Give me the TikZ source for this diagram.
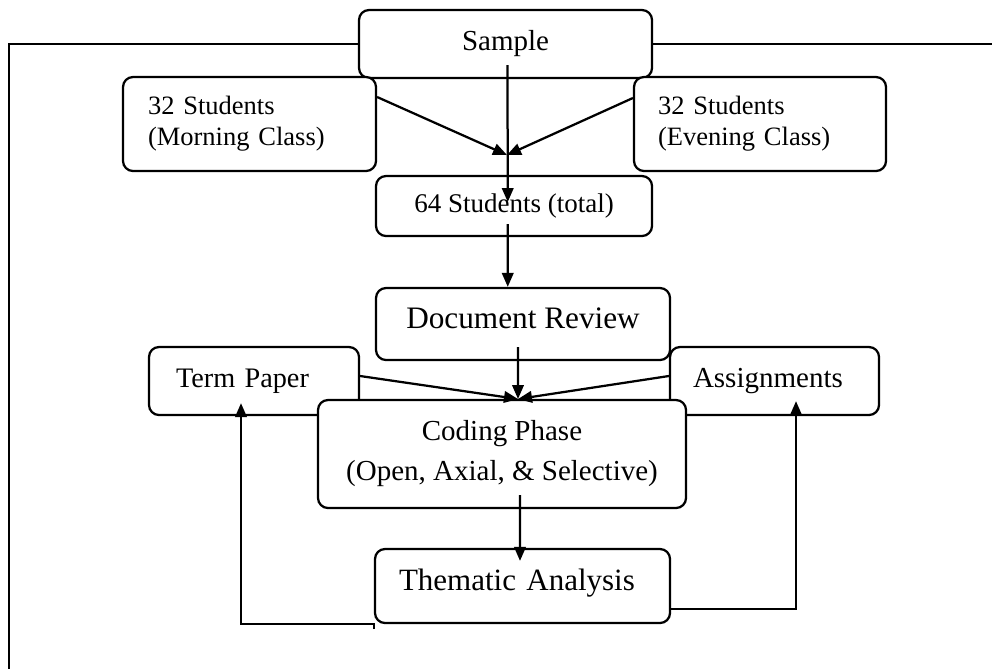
\documentclass[tikz,border=0pt]{standalone}
\usepackage{fontspec}
\setmainfont{Liberation Serif}
\usetikzlibrary{arrows.meta}
\begin{document}
\begin{tikzpicture}[>={Triangle[length=5.6pt,width=4.6pt]},x=0.4pt,y=-0.4pt,line width=0.9pt,
	box/.style={draw,fill=white,rounded corners=4pt,inner sep=0pt,align=center,font=\fontsize{11.6}{14}\selectfont},
	lbox/.style={box,align=left}]
			\useasboundingbox (0,0) rectangle (992,669);
			\node[box,minimum width=117.2pt,minimum height=27.2pt] (sample) at (505.5,44) {Sample};
			\node[lbox,minimum width=101.2pt,minimum height=37.6pt,text width=81.2pt,font=\fontsize{10.6}{12.4}\selectfont] (morning) at (249.5,124) {32 Students\\(Morning Class)};
			\node[lbox,minimum width=100.8pt,minimum height=37.6pt,text width=81.6pt,font=\fontsize{10.6}{12.4}\selectfont] (evening) at (760,124) {32 Students\\(Evening Class)};
			\node[box,minimum width=110.4pt,minimum height=24pt,font=\fontsize{10.8}{13}\selectfont] (total) at (514,206) {64 Students (total)};
			\node[box,minimum width=117.6pt,minimum height=28.8pt,text depth=4.5pt,font=\fontsize{12.5}{15}\selectfont] (review) at (523,324) {Document Review};
			\node[lbox,minimum width=84pt,minimum height=27.2pt,text width=62.4pt,font=\fontsize{11.3}{14}\selectfont] (termpaper) at (254,381) {Term Paper};
			\node[lbox,minimum width=83.6pt,minimum height=27.2pt,text width=65.2pt] (assign) at (774.5,381) {Assignments};
			\node[box,minimum width=147.2pt,minimum height=43.2pt,font=\fontsize{11.6}{16}\selectfont] (coding) at (502,454) {Coding Phase\\(Open, Axial, \& Selective)};
			\node[lbox,minimum width=118pt,minimum height=29.6pt,text width=98.8pt,text depth=5.3pt,font=\fontsize{12.4}{15}\selectfont] (thematic) at (522.5,586) {Thematic Analysis};
			\coordinate (join) at (507,155);
			\coordinate (hub) at (518,399);
			\draw (sample.west) -| (9,669);
			\draw (sample.east) -- (992,44);
			\draw[->] ([xshift=0.8pt,yshift=-8.4pt]sample.center) -- ([xshift=-2.5pt,yshift=1.6pt]total.center);
			\draw[->] ([yshift=10.8pt]morning.east) -- (join);
			\draw[->] ([yshift=10.4pt]evening.west) -- (join);
			\draw[->] ([xshift=-2.5pt,yshift=-7.2pt]total.center) -- ([xshift=-6.1pt]review.north);
			\draw[->] ([xshift=-2pt,yshift=-9.2pt]review.center) -- (hub);
			\draw[->] ([yshift=2pt]termpaper.east) -- (hub);
			\draw[->] ([yshift=2pt]assign.west) -- (hub);
			\draw[->] ([xshift=7.2pt,yshift=-16.4pt]coding.center) -- ([xshift=-1pt,yshift=-5.2pt]thematic.north);
			\draw[->] ([yshift=-2pt]thematic.south west) -- (thematic.south west) -| ([xshift=-5.2pt,yshift=5.2pt]termpaper.south);
			\draw[->] ([yshift=-9.2pt]thematic.east) -| ([xshift=8.6pt,yshift=6pt]assign.south);
\end{tikzpicture}
\end{document}
